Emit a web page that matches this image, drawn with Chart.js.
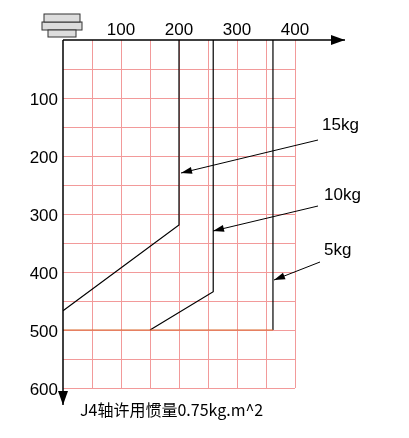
<!DOCTYPE html>
<html><head><meta charset="utf-8">
<script src="https://cdn.jsdelivr.net/npm/chart.js@4"></script>
<style>html,body{margin:0;padding:0;background:#fff}#c{display:block}</style>
</head><body>
<div style="width:409px;height:438px"><canvas id="c" width="409" height="438"></canvas></div>
<script>
const xTicks=[100,200,300,400];
const yTicks=[100,200,300,400,500,600];
const line15=[{x:0,y:467},{x:200,y:319},{x:200,y:0}];
const line10=[{x:150,y:500},{x:259,y:434},{x:259,y:0}];
const line5=[{x:362,y:500},{x:362,y:0}];
const line500=[{x:0,y:500},{x:362,y:500}];
const labels=[{t:'15kg',lx:322,ly:125,ax:181,ay:173,sx:318,sy:140},
{t:'10kg',lx:324,ly:195,ax:213,ay:231,sx:318,sy:206},
{t:'5kg',lx:324,ly:250,ax:274,ay:280,sx:320,sy:262}];
const title='J4轴许用惯量0.75kg.m^2';
function arrow(ctx,x1,y1,x2,y2,len,w){
 const a=Math.atan2(y2-y1,x2-x1);
 ctx.beginPath();ctx.moveTo(x1,y1);ctx.lineTo(x2,y2);ctx.stroke();
 ctx.beginPath();ctx.moveTo(x2,y2);
 ctx.lineTo(x2-len*Math.cos(a)+w*Math.sin(a),y2-len*Math.sin(a)-w*Math.cos(a));
 ctx.lineTo(x2-len*Math.cos(a)-w*Math.sin(a),y2-len*Math.sin(a)+w*Math.cos(a));
 ctx.closePath();ctx.fill();
}
const deco={id:'deco',
beforeDatasetsDraw(ch){const {ctx,scales:{x,y}}=ch;ctx.save();
 ctx.strokeStyle='#f29a9a';ctx.lineWidth=1;
 for(let v=50;v<=400;v+=50){const p=Math.round(x.getPixelForValue(v))+0.5;ctx.beginPath();ctx.moveTo(p,y.getPixelForValue(0));ctx.lineTo(p,y.getPixelForValue(600));ctx.stroke();}
 for(let v=50;v<=600;v+=50){const p=Math.round(y.getPixelForValue(v))+0.5;ctx.beginPath();ctx.moveTo(x.getPixelForValue(0),p);ctx.lineTo(x.getPixelForValue(400),p);ctx.stroke();}
 ctx.restore();},
afterDatasetsDraw(ch){const {ctx,scales:{x,y}}=ch;ctx.save();
 ctx.fillStyle='#000';ctx.strokeStyle='#000';ctx.lineWidth=1.5;
 const x0=x.getPixelForValue(0),y0=y.getPixelForValue(0);
 arrow(ctx,x0,y0,345,y0,14,5);
 arrow(ctx,x0,y0,x0,405,14,5);
 ctx.font='17px Arial, Liberation Sans';ctx.textAlign='center';ctx.textBaseline='alphabetic';
 xTicks.forEach(v=>ctx.fillText(String(v),x.getPixelForValue(v),35));
 ctx.textAlign='right';ctx.textBaseline='middle';
 yTicks.forEach(v=>ctx.fillText(String(v),58,y.getPixelForValue(v)+2));
 ctx.textAlign='left';
 ctx.lineWidth=1;
 labels.forEach(l=>{ctx.fillText(l.t,l.lx,l.ly);arrow(ctx,l.sx,l.sy,l.ax,l.ay,11,3.5);});
 ctx.font='16px "Noto Sans CJK SC"';ctx.textBaseline='middle';ctx.fillText(title,80,410);
 // icon
 ctx.fillStyle='#ddd';ctx.strokeStyle='#333';ctx.lineWidth=1;
 ctx.fillRect(42,22,40,8);ctx.strokeRect(42,22,40,8);
 ctx.fillRect(48,30,28,7);ctx.strokeRect(48,30,28,7);
 ctx.fillRect(44,14,36,8);ctx.strokeRect(44,14,36,8);
 ctx.restore();}};
const ds=(d,c)=>({data:d,borderColor:c,borderWidth:1.2,showLine:true,pointRadius:0,fill:false,tension:0});
new Chart(document.getElementById('c'),{type:'scatter',
data:{datasets:[ds(line500,'#d9662a'),ds(line15,'#000'),ds(line10,'#000'),ds(line5,'#000')]},
plugins:[deco],
options:{responsive:false,animation:false,events:[],
 layout:{padding:{left:63,right:114,top:40,bottom:50}},
 plugins:{legend:{display:false},tooltip:{enabled:false}},
 scales:{x:{type:'linear',min:0,max:400,display:false},y:{type:'linear',min:0,max:600,reverse:true,display:false}}}});
</script></body></html>
